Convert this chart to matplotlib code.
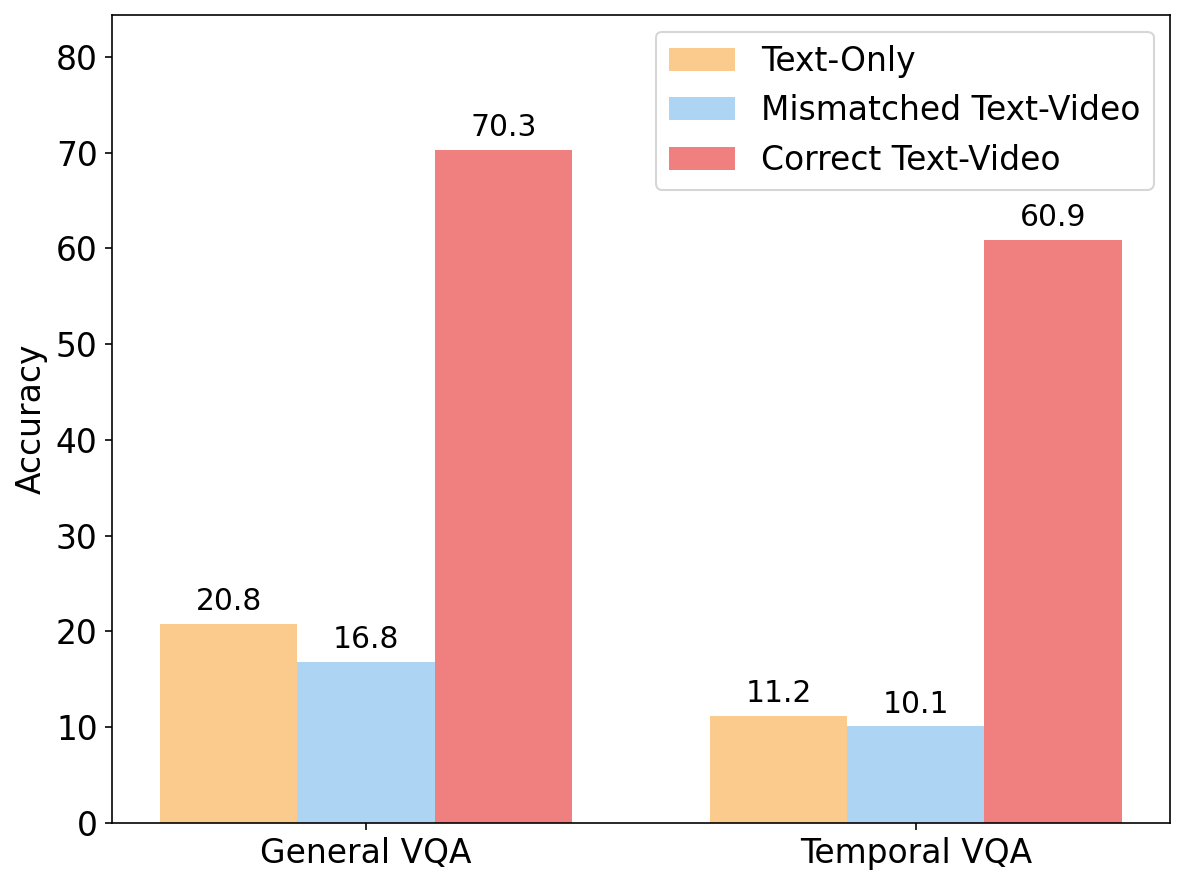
import numpy as np
import matplotlib
matplotlib.use("Agg")
import matplotlib.pyplot as plt

# Data
categories = ["General VQA", "Temporal VQA"]
text_only = [20.8, 11.2]
mismatched = [16.8, 10.1]
correct = [70.3, 60.9]
series_names = ["Text-Only", "Mismatched Text-Video", "Correct Text-Video"]
colors = ["#FACB8C", "#AED4F3", "#F08080"]

fig, ax = plt.subplots(figsize=(1186 / 148, 886 / 148), dpi=148)

x = np.arange(len(categories))
width = 0.25

for i, (vals, name, c) in enumerate(zip([text_only, mismatched, correct], series_names, colors)):
    bars = ax.bar(x + (i - 1) * width, vals, width, label=name, color=c)
    for b, v in zip(bars, vals):
        ax.text(b.get_x() + b.get_width() / 2, v + 0.8, f"{v:.1f}",
                ha="center", va="bottom", fontsize=14.5)

ax.set_ylabel("Accuracy", fontsize=16)
ax.set_xticks(x)
ax.set_xticklabels(categories, fontsize=16)
ax.tick_params(axis="y", labelsize=16)
ax.set_ylim(0, max(correct) * 1.2)
ax.legend(fontsize=16, loc="upper right")

fig.subplots_adjust(left=0.0944, right=0.9865, top=0.983, bottom=0.0711)
plt.savefig("out.png", dpi=148)
